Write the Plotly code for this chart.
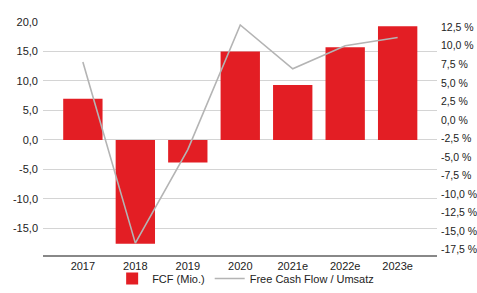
import plotly.graph_objects as go

years = ["2017", "2018", "2019", "2020", "2021e", "2022e", "2023e"]
fcf = [7.0, -17.6, -3.8, 15.0, 9.3, 15.7, 19.3]
fcf_ratio = [7.8, -16.6, -4.0, 12.8, 6.9, 10.0, 11.1]

left_ticks = [-15, -10, -5, 0, 5, 10, 15, 20]
left_labels = ["-15,0", "-10,0", "-5,0", "0,0", "5,0", "10,0", "15,0", "20,0"]
right_ticks = [-17.5, -15, -12.5, -10, -7.5, -5, -2.5, 0, 2.5, 5, 7.5, 10, 12.5]
right_labels = ["-17,5 %", "-15,0 %", "-12,5 %", "-10,0 %", "-7,5 %", "-5,0 %", "-2,5 %",
                "0,0 %", "2,5 %", "5,0 %", "7,5 %", "10,0 %", "12,5 %"]

fig = go.Figure()
fig.add_trace(go.Bar(x=list(range(len(years))), y=fcf, name="FCF (Mio.)",
                     marker=dict(color="#e31e24", line=dict(width=0)), width=0.75))
fig.add_trace(go.Scatter(x=list(range(len(years))), y=fcf_ratio, name="Free Cash Flow / Umsatz",
                         mode="lines", line=dict(color="#b4b4b4", width=1.6), yaxis="y2"))

fig.update_layout(
    width=477, height=293,
    margin=dict(l=43, r=40, t=22, b=38, autoexpand=False),
    paper_bgcolor="white", plot_bgcolor="white",
    font=dict(family="Liberation Sans, Arial, sans-serif", size=11, color="#222"),
    showlegend=True,
    legend=dict(orientation="h", x=0.515, xanchor="center", xref="container",
                y=-0.012, yanchor="bottom", yref="container",
                font=dict(size=11), itemwidth=30, traceorder="normal",
                tracegroupgap=0, bgcolor="rgba(0,0,0,0)"),
    bargap=0.25,
    xaxis=dict(tickmode="array", tickvals=list(range(len(years))), ticktext=years,
               range=[-0.76, 6.75], showgrid=False, showline=True, linecolor="#888",
               linewidth=1.5, ticks="", zeroline=False, automargin=False),
    yaxis=dict(range=[-19.5, 20], tickvals=left_ticks, ticktext=left_labels,
               showgrid=True, gridcolor="#d4d4d4", gridwidth=1, zeroline=False,
               ticks="", ticklabelstandoff=4, automargin=False),
    yaxis2=dict(range=[-18.2, 13.2], overlaying="y", side="right",
                tickvals=right_ticks, ticktext=right_labels, showgrid=False,
                zeroline=False, ticks="", ticklabelstandoff=3, automargin=False,
                tickfont=dict(size=10.5)),
)

fig.write_html("out.html", config={"displayModeBar": False},
               post_script="document.body.style.margin='0';document.body.style.overflow='hidden';")
